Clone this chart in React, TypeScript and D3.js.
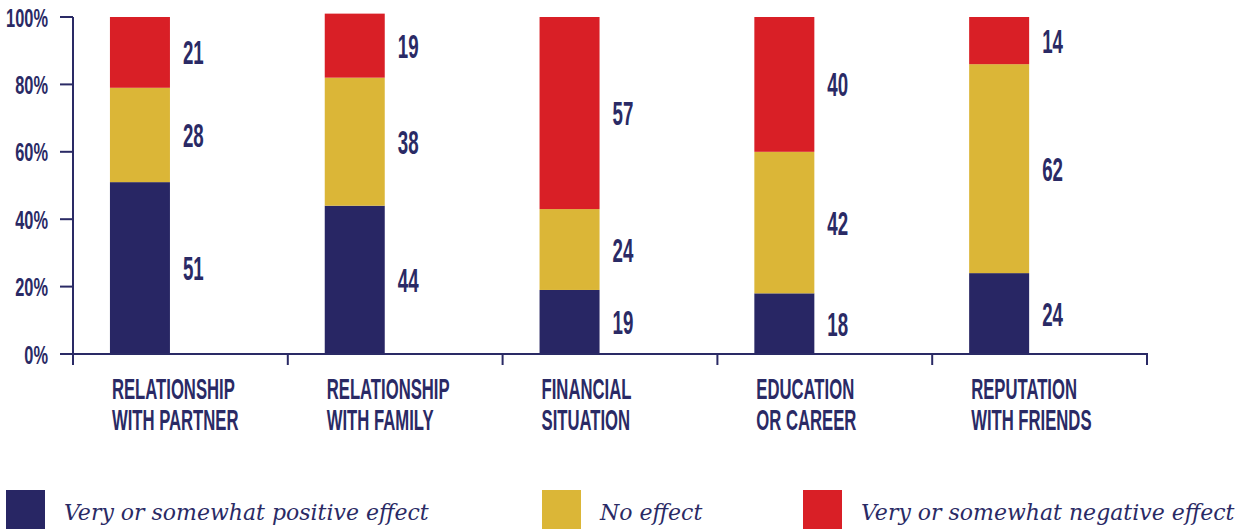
import React from "react";
import * as d3 from "d3";

const categories = [
  ["RELATIONSHIP", "WITH PARTNER"],
  ["RELATIONSHIP", "WITH FAMILY"],
  ["FINANCIAL", "SITUATION"],
  ["EDUCATION", "OR CAREER"],
  ["REPUTATION", "WITH FRIENDS"],
];
const positive = [51, 44, 19, 18, 24];
const noEffect = [28, 38, 24, 42, 62];
const negative = [21, 19, 57, 40, 14];
const yTicks = [0, 20, 40, 60, 80, 100];
const seriesNames = [
  "Very or somewhat positive effect",
  "No effect",
  "Very or somewhat negative effect",
];
const colors = ["#282664", "#dbb637", "#d91f26"];
const navy = "#2a2a65";

const W = 1248;
const H = 529;

export default function App() {
  const x = d3.scaleBand<number>().domain(d3.range(5)).range([73, 1147]).padding(0);
  const y = d3.scaleLinear().domain([0, 100]).range([354, 17]);
  const bw = x.bandwidth();
  const barOff = bw * 0.172;
  const barW = 60;

  const rows = categories.map((_, i) => ({ i, p: positive[i], n: noEffect[i], g: negative[i] }));
  const stack = d3.stack<any>().keys(["p", "n", "g"])(rows);

  const condensed = (tx: number, ty: number, sx: number) =>
    `translate(${tx},${ty}) scale(${sx},1)`;

  return (
    <svg width={W} height={H} style={{ position: "absolute", left: 0, top: 0 }} fontFamily="Liberation Sans, Arial, sans-serif">
      {/* bars */}
      {stack.map((s, si) => (
        <g key={si} fill={colors[si]}>
          {s.map((d, i) => (
            <rect key={i} x={(x(i) as number) + barOff} width={barW} y={y(d[1])} height={y(d[0]) - y(d[1])} />
          ))}
        </g>
      ))}
      {/* value labels */}
      {stack.map((s, si) => (
        <g key={"l" + si}>
          {s.map((d, i) => (
            <text
              key={i}
              transform={condensed((x(i) as number) + barOff + barW + 13, y((d[0] + d[1]) / 2) + 12, 0.55)}
              fontSize={34}
              fontWeight="bold"
              fill={navy}
            >
              {d[1] - d[0]}
            </text>
          ))}
        </g>
      ))}
      {/* y axis */}
      <line x1={73} x2={73} y1={y(100)} y2={y(0)} stroke={navy} strokeWidth={2} />
      {yTicks.map((t) => (
        <g key={t}>
          <line x1={60} x2={73} y1={y(t)} y2={y(t)} stroke={navy} strokeWidth={2} />
          <text
            transform={condensed(48, y(t) + 9.5, 0.63)}
            textAnchor="end"
            fontSize={26}
            fontWeight="bold"
            fill={navy}
          >
            {t}%
          </text>
        </g>
      ))}
      {/* x axis */}
      <line x1={60} x2={1148} y1={y(0)} y2={y(0)} stroke={navy} strokeWidth={2} />
      {d3.range(6).map((k) => {
        const xx = k < 5 ? (x(k) as number) : 1147;
        return <line key={k} x1={xx} x2={xx} y1={y(0)} y2={365} stroke={navy} strokeWidth={2} />;
      })}
      {categories.map((lines, i) => (
        <g key={"c" + i}>
          {lines.map((ln, li) => (
            <text
              key={li}
              transform={condensed((x(i) as number) + barOff + 2, 399 + li * 31, 0.575)}
              fontSize={29}
              fontWeight="bold"
              fill={navy}
            >
              {ln}
            </text>
          ))}
        </g>
      ))}
      {/* legend */}
      {seriesNames.map((nm, i) => {
        const lx = [6, 542, 803][i];
        return (
          <g key={"lg" + i}>
            <rect x={lx} y={490} width={39} height={40} fill={colors[i]} />
            <text x={lx + 58} y={520} fontSize={22} fontStyle="italic" fontFamily="DejaVu Serif, serif" fill={navy}>
              {nm}
            </text>
          </g>
        );
      })}
    </svg>
  );
}
